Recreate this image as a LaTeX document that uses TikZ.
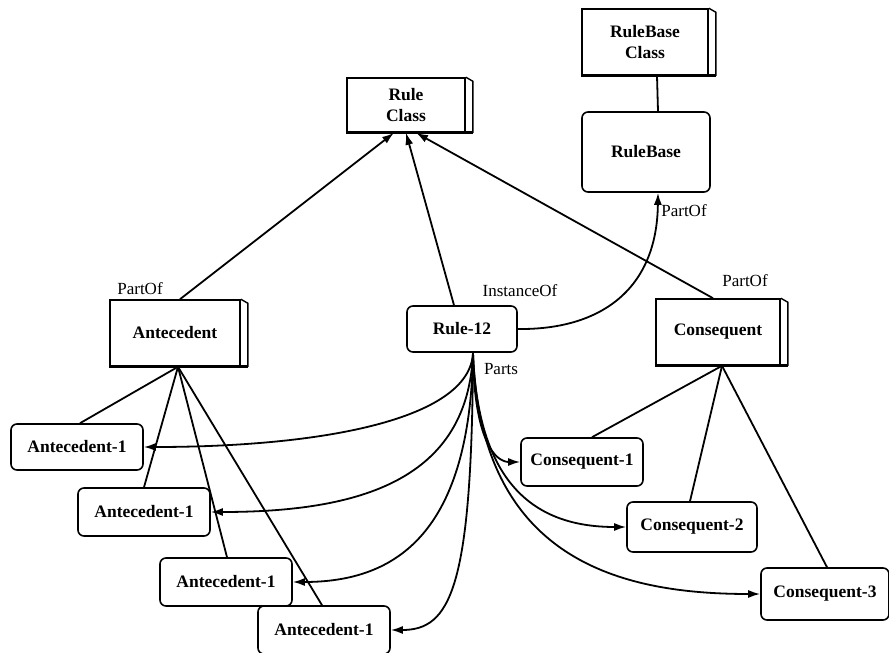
\documentclass[tikz,border=0pt]{standalone}
\usepackage{fontspec}
\setmainfont{Liberation Serif}
\usetikzlibrary{arrows.meta,calc}
\begin{document}
\begin{tikzpicture}[x=1pt,y=-1pt,
  lbl/.style={font=\fontsize{17}{19}\selectfont,inner sep=1pt},
  box3d/.style={draw,line width=1.6pt,align=center,inner sep=0pt,font=\fontsize{17.5}{21}\selectfont\bfseries},
  rbox/.style={draw,line width=1.6pt,rounded corners=6pt,align=center,inner sep=0pt,font=\fontsize{17.5}{21}\selectfont\bfseries},
  conn/.style={line width=1.8pt},
  arr/.style={conn,-{Latex[length=12pt,width=8pt]}},
]
\useasboundingbox (0,0) rectangle (889,653);

% class boxes
\node[box3d,minimum width=126pt,minimum height=66pt] (rbc) at (645,42) {RuleBase\\Class};
\node[rbox,minimum width=128pt,minimum height=80pt] (rb) at (646,152) {RuleBase};
\node[box3d,minimum width=118pt,minimum height=54pt] (rc) at (406,105) {Rule\\Class};
\node[box3d,minimum width=130pt,minimum height=66pt] (ant) at (175,333) {Antecedent};
\node[rbox,minimum width=110pt,minimum height=46pt] (r12) at (462,329) {Rule-12};
\node[box3d,minimum width=124pt,minimum height=66pt] (con) at (718,332) {Consequent};

% part nodes
\node[rbox,minimum width=132pt,minimum height=46pt] (a1) at (77,447) {Antecedent-1};
\node[rbox,minimum width=132pt,minimum height=48pt] (a2) at (144,512) {Antecedent-1};
\node[rbox,minimum width=132pt,minimum height=48pt] (a3) at (226,582) {Antecedent-1};
\node[rbox,minimum width=132pt,minimum height=48pt] (a4) at (324,630) {Antecedent-1};
\node[rbox,minimum width=122pt,minimum height=48pt] (c1) at (582,462) {Consequent-1};
\node[rbox,minimum width=130pt,minimum height=50pt] (c2) at (692,527) {Consequent-2};
\node[rbox,minimum width=128pt,minimum height=52pt] (c3) at (825,594) {Consequent-3};

% 3D edges
\foreach \n in {rc,rbc,ant,con} {
  \draw[line width=1.4pt] (\n.north east) -- ($(\n.north east)+(7,4)$) -- ($(\n.south east)+(7,0)$);
  \draw[line width=3pt] (\n.south west) -- ($(\n.south east)+(7,0)$);
}

% class links
\draw[conn] ([xshift=12pt]rbc.south) -- ([xshift=12pt]rb.north);
\draw[arr] ([xshift=5pt]ant.north) -- ([xshift=-12pt]rc.south);
\draw[arr] ([xshift=-8pt]r12.north) -- ([xshift=0pt]rc.south);
\draw[arr] ([xshift=-5pt]con.north) -- ([xshift=10pt]rc.south);
\draw[arr] (r12.east) .. controls (600,330) and (657,290) .. ([xshift=12pt]rb.south);

% antecedent tree
\coordinate (antb) at ([xshift=3pt]ant.south);
\draw[conn] (antb) -- ([xshift=3pt]a1.north);
\draw[conn] (antb) -- (a2.north);
\draw[conn] (antb) -- ([xshift=1pt]a3.north);
\draw[conn] (antb) -- ([xshift=-2pt]a4.north);

% consequent tree
\coordinate (conb) at ([xshift=4pt]con.south);
\draw[conn] (conb) -- ([xshift=10pt]c1.north);
\draw[conn] (conb) -- ([xshift=-2pt]c2.north);
\draw[conn] (conb) -- ([xshift=2pt]c3.north);

% parts
\coordinate (pt) at ([xshift=11pt]r12.south);
\draw[arr] (pt) .. controls (470,420) and (320,447) .. (a1.east);
\draw[arr] (pt) .. controls (468,480) and (360,512) .. (a2.east);
\draw[arr] (pt) .. controls (470,540) and (390,582) .. (a3.east);
\draw[arr] (pt) .. controls (472,590) and (450,630) .. (a4.east);
\draw[arr] (pt) .. controls (474,440) and (495,462) .. (c1.west);
\draw[arr] (pt) .. controls (478,490) and (540,527) .. (c2.west);
\draw[arr] (pt) .. controls (480,560) and (620,594) .. (c3.west);

% labels
\node[lbl] (l1) at (140,289) {PartOf};
\node[lbl] (l2) at (520,291) {InstanceOf};
\node[lbl] (l3) at (745,281) {PartOf};
\node[lbl] (l4) at (684,211) {PartOf};
\node[lbl] (l5) at (501,369) {Parts};
\end{tikzpicture}
\end{document}
